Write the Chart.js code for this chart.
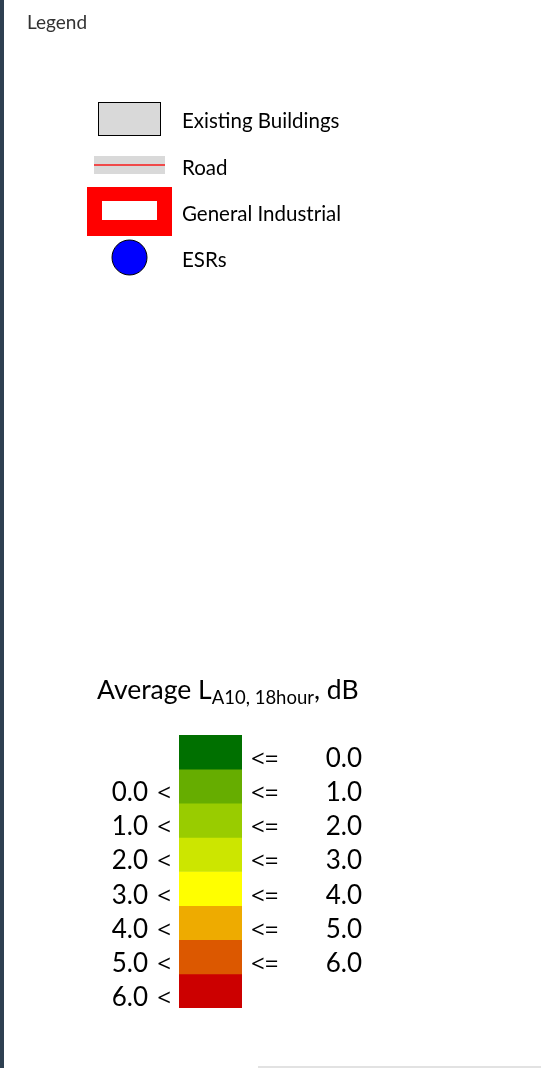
<!DOCTYPE html>
<html>
<head>
<meta charset="utf-8">
<script src="https://cdn.jsdelivr.net/npm/chart.js@4.4.1/dist/chart.umd.min.js"></script>
<style>
  html, body { margin: 0; padding: 0; background: #fff; }
  #wrap { position: relative; width: 541px; height: 1068px; }
</style>
</head>
<body>
<div id="wrap"><canvas id="legendChart" width="541" height="1068"></canvas></div>
<script>
// noise level bands, top (lowest) to bottom (highest)
const bandColors = ["#007000", "#66ad00", "#99cc00", "#cce600", "#ffff00", "#eeab00", "#dc5800", "#cc0000"];
const lowerBounds = [null, "0.0", "1.0", "2.0", "3.0", "4.0", "5.0", "6.0"];
const upperBounds = ["0.0", "1.0", "2.0", "3.0", "4.0", "5.0", "6.0", null];
const bandSize = [1, 1, 1, 1, 1, 1, 1, 1];

// map legend entries
const legendItems = ["Existing Buildings", "Road", "General Industrial", "ESRs"];

const FONT = "Lato, 'Open Sans', sans-serif";
const SYM_FONT = "'Open Sans', sans-serif";

const legendPanel = {
  id: "legendPanel",
  beforeDraw(chart) {
    const ctx = chart.ctx;
    ctx.save();
    ctx.fillStyle = "#fff";
    ctx.fillRect(0, 0, chart.width, chart.height);
    // dark frame edge on the left
    ctx.fillStyle = "#2e4051";
    ctx.fillRect(0, 0, 4, chart.height);
    // faint line along the bottom
    ctx.fillStyle = "#e2e2e2";
    ctx.fillRect(258, 1066, 283, 2);
    ctx.restore();
  },
  afterDraw(chart) {
    const ctx = chart.ctx;
    ctx.save();
    ctx.textBaseline = "alphabetic";

    ctx.fillStyle = "#333";
    ctx.font = "19px " + FONT;
    ctx.fillText("Legend", 27, 29);

    // symbols
    ctx.fillStyle = "#d9d9d9";
    ctx.fillRect(98, 102, 63, 34);
    ctx.strokeStyle = "#000";
    ctx.lineWidth = 1;
    ctx.strokeRect(98.5, 102.5, 62, 33);

    ctx.fillStyle = "#d9d9d9";
    ctx.fillRect(94, 156, 71, 18);
    ctx.fillStyle = "#f04a4a";
    ctx.fillRect(94, 164, 71, 2);

    ctx.fillStyle = "#ff0000";
    ctx.fillRect(87, 187, 85, 49);
    ctx.fillStyle = "#fff";
    ctx.fillRect(102, 201, 55, 19);

    ctx.beginPath();
    ctx.arc(129.5, 257.5, 17.5, 0, Math.PI * 2);
    ctx.fillStyle = "#0000ff";
    ctx.fill();
    ctx.strokeStyle = "#000";
    ctx.stroke();

    ctx.fillStyle = "#000";
    ctx.font = "20.5px " + FONT;
    const rowBase = [128, 175, 221, 267];
    legendItems.forEach((t, i) => ctx.fillText(t, 182, rowBase[i]));

    // colour scale title with subscript
    ctx.font = "26.5px " + FONT;
    let x = 97;
    ctx.fillText("Average L", x, 699);
    x += ctx.measureText("Average L").width;
    ctx.font = "18.5px " + FONT;
    ctx.fillText("A10, 18hour", x, 704);
    x += ctx.measureText("A10, 18hour").width;
    ctx.font = "26.5px " + FONT;
    ctx.fillText(", dB", x, 699);

    // band labels placed on the y scale
    const yScale = chart.scales.y;
    bandColors.forEach((c, i) => {
      const y = yScale.getPixelForValue(i + 0.5) + 15;
      if (lowerBounds[i] !== null) {
        ctx.textAlign = "right";
        ctx.font = "24px " + SYM_FONT;
        ctx.fillText("<", 171, y);
        ctx.font = "26px " + FONT;
        ctx.fillText(lowerBounds[i], 148, y);
      }
      if (upperBounds[i] !== null) {
        ctx.textAlign = "left";
        ctx.font = "24px " + SYM_FONT;
        ctx.fillText("<=", 251, y);
        ctx.textAlign = "right";
        ctx.font = "26px " + FONT;
        ctx.fillText(upperBounds[i], 362, y);
      }
    });
    ctx.restore();
  }
};

new Chart(document.getElementById("legendChart"), {
  type: "bar",
  data: {
    labels: ["scale"],
    datasets: bandColors.map((c, i) => ({
      label: "band " + i,
      data: [bandSize[i]],
      backgroundColor: c,
      borderWidth: 0,
      categoryPercentage: 1,
      barPercentage: 1
    }))
  },
  options: {
    responsive: false,
    animation: false,
    devicePixelRatio: 1,
    layout: { padding: { left: 179, right: 299, top: 735, bottom: 60 } },
    plugins: { legend: { display: false }, tooltip: { enabled: false } },
    scales: {
      x: { stacked: true, display: false },
      y: { stacked: true, display: false, reverse: true, min: 0, max: 8 }
    }
  },
  plugins: [legendPanel]
});
</script>
</body>
</html>
